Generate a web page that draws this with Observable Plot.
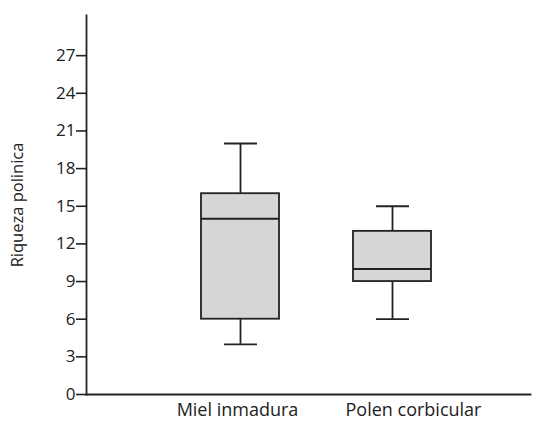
<!DOCTYPE html>
<html>
<head>
<meta charset="utf-8">
<script src="https://cdn.jsdelivr.net/npm/d3@7"></script>
<script src="https://cdn.jsdelivr.net/npm/@observablehq/plot@0.6"></script>
<style>
  html, body { margin: 0; padding: 0; background: #fff; }
  #chart svg { display: block; }
</style>
</head>
<body>
<div id="chart"></div>
<script>
const categories = ["Miel inmadura", "Polen corbicular"];
const whiskerLow = [4, 6];
const q1 = [6, 9];
const median = [14, 10];
const q3 = [16, 13];
const whiskerHigh = [20, 15];
const yTicks = [0, 3, 6, 9, 12, 15, 18, 21, 24, 27];
const yTitle = "Riqueza polinica";

const data = categories.map((c, i) => ({
  cat: c, lo: whiskerLow[i], q1: q1[i], med: median[i], q3: q3[i], hi: whiskerHigh[i]
}));

const ink = "#222";
const font = "'Open Sans', sans-serif";

const chart = Plot.plot({
  width: 544,
  height: 421,
  marginLeft: 86,
  marginRight: 14,
  marginTop: 15,
  marginBottom: 27,
  style: { fontFamily: font, fontSize: "17px", color: ink, background: "#fff" },
  x: { domain: categories, paddingInner: 0.49, paddingOuter: 0.696, align: 0.535, label: null },
  y: { domain: [0, 30.2], label: null },
  marks: [
    Plot.axisY({ ticks: yTicks, tickSize: 10, tickPadding: 1, fontSize: 17, stroke: ink, strokeWidth: 1.6 }),
    Plot.axisX({ ticks: [categories[0]], tickSize: 0, tickPadding: 9, fontSize: 18, dx: -3 }),
    Plot.axisX({ ticks: [categories[1]], tickSize: 0, tickPadding: 9, fontSize: 18, dx: 21 }),
    Plot.text([yTitle], { frameAnchor: "left", textAnchor: "middle", dx: -69, rotate: -90, fontSize: 16.5, fill: ink }),
    Plot.ruleX(data, { x: "cat", y1: "lo", y2: "q1", stroke: ink, strokeWidth: 1.8 }),
    Plot.ruleX(data, { x: "cat", y1: "q3", y2: "hi", stroke: ink, strokeWidth: 1.8 }),
    Plot.tickY(data, { x: "cat", y: "lo", stroke: ink, strokeWidth: 1.8, insetLeft: 23, insetRight: 22 }),
    Plot.tickY(data, { x: "cat", y: "hi", stroke: ink, strokeWidth: 1.8, insetLeft: 23, insetRight: 22 }),
    Plot.barY(data, { x: "cat", y1: "q1", y2: "q3", fill: "#d6d6d6", stroke: ink, strokeWidth: 1.8 }),
    Plot.tickY(data, { x: "cat", y: "med", stroke: ink, strokeWidth: 2 }),
    Plot.frame({ anchor: "left", stroke: ink, strokeWidth: 1.8 }),
    Plot.frame({ anchor: "bottom", stroke: ink, strokeWidth: 1.8 })
  ]
});

document.getElementById("chart").appendChild(chart);
</script>
</body>
</html>
